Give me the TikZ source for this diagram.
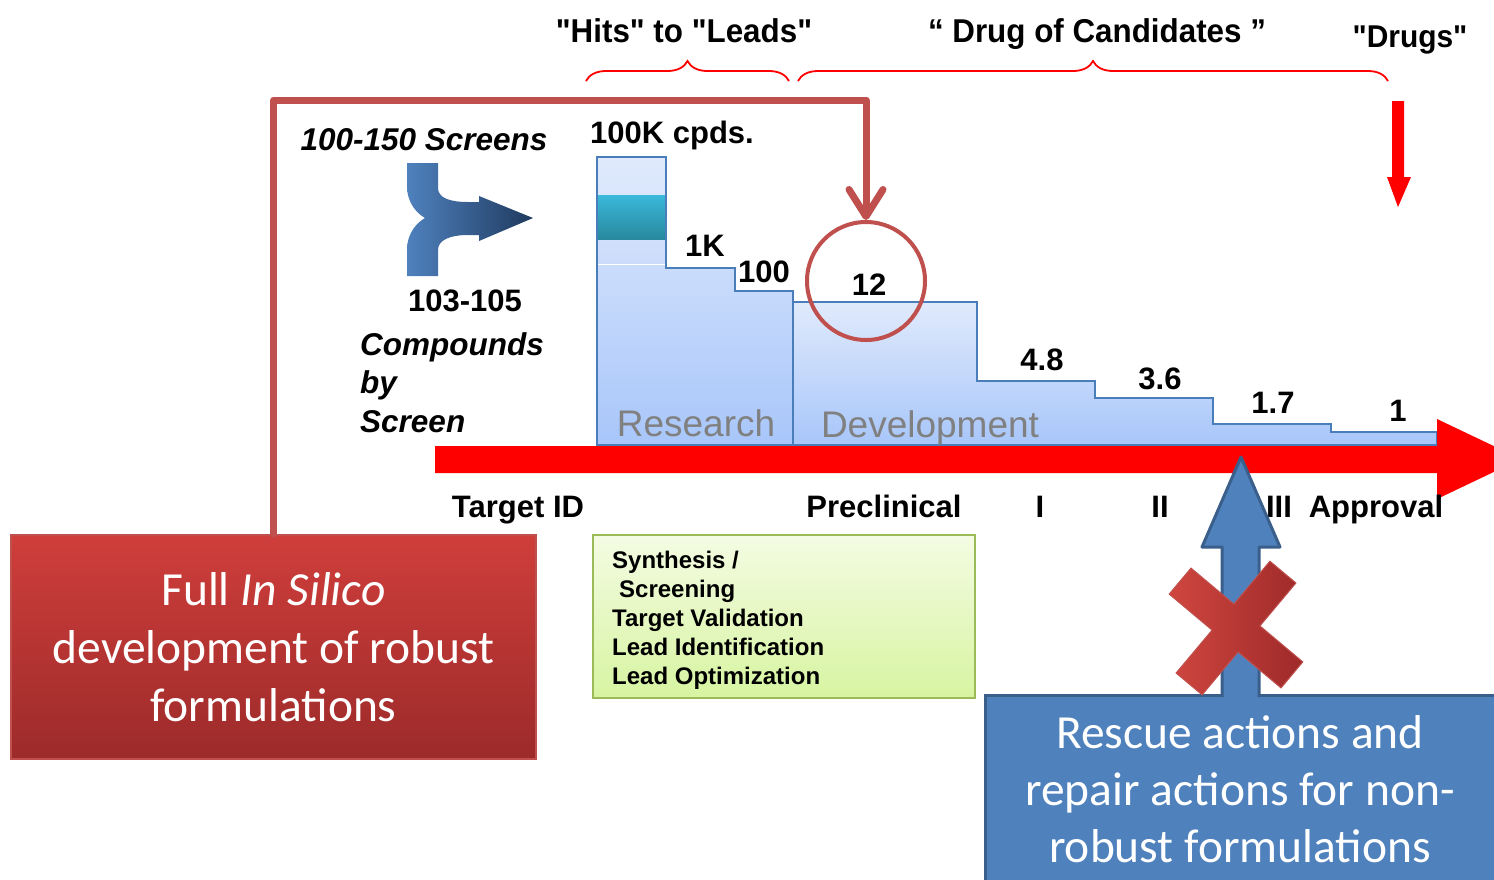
\documentclass[tikz,border=0pt]{standalone}
\usepackage{fontspec}
\setmainfont{Liberation Sans}
\newfontfamily\calfont{Carlito}
\newfontfamily\qfont{Liberation Sans}[Ligatures=TeXOff, FakeStretch=0.95]
\usetikzlibrary{arrows.meta,decorations.pathreplacing}
\definecolor{connred}{HTML}{C0504D}
\definecolor{chartline}{HTML}{4A7EBB}
\definecolor{charttop}{HTML}{E0EAFC}
\definecolor{chartbot}{HTML}{A8C6FA}
\definecolor{teal1}{HTML}{3BB8DA}
\definecolor{teal2}{HTML}{27899E}
\definecolor{blueA}{HTML}{4F81BD}
\definecolor{blueB}{HTML}{1F3A5F}
\definecolor{blueEdge}{HTML}{3A5F8B}
\definecolor{redTop}{HTML}{CF3E3B}
\definecolor{redBot}{HTML}{9C2B2A}
\definecolor{greenTop}{HTML}{F4FCE3}
\definecolor{greenBot}{HTML}{D7F4A1}
\definecolor{greenEdge}{HTML}{9BBB59}
\definecolor{xLight}{HTML}{D0463F}
\definecolor{xDark}{HTML}{9E2A2A}
\definecolor{pure}{HTML}{FF0000}
\tikzset{
  lbl/.style={inner sep=0pt, anchor=base, font=\fontsize{31}{36}\selectfont\bfseries},
  toplbl/.style={inner sep=0pt, anchor=base, font=\qfont\fontsize{33}{38}\selectfont\bfseries},
  ilbl/.style={inner sep=0pt, anchor=base west, font=\fontsize{31}{36}\selectfont\bfseries\itshape},
  phase/.style={inner sep=0pt, anchor=base, font=\fontsize{37}{44}\selectfont, text=gray},
  conn/.style={draw=connred, line width=7pt, line join=round, line cap=round},
  bracestyle/.style={draw=pure, line width=1.8pt, decorate, decoration={brace, amplitude=20pt}},
  chart/.style={draw=chartline, line width=1.8pt, top color=charttop, bottom color=chartbot},
}
\begin{document}
\begin{tikzpicture}[x=1pt,y=-1pt]
\clip (0,0) rectangle (1494,879);
\fill[white] (0,0) rectangle (1494,879);

% top labels and braces
\node[toplbl] (hl) at (684,42) {"Hits" to "Leads"};
\node[toplbl] (dc) at (1097,42) {“ Drug of Candidates ”};
\node[toplbl, font=\qfont\fontsize{31.5}{38}\selectfont\bfseries] (dr) at (1410,47) {"Drugs"};
\draw[bracestyle] (586,81) -- (789,81);
\draw[bracestyle] (798,81) -- (1388,81);

% red down arrow
\fill[pure] (1392,101) -- (1404,101) -- (1404,177) -- (1411,177) -- (1398,207) -- (1387,177) -- (1392,177) -- cycle;

% step chart
\path[chart] (597,445) -- (597,157) -- (666,157) -- (666,268) -- (735,268) -- (735,291) -- (793,291) -- (793,445) -- cycle;
\fill[top color=teal1, bottom color=teal2] (598,195) rectangle (665,239);
\draw[white, line width=0.8pt] (598,264) -- (665,264);
\draw[chartline, line width=1.8pt, line join=round] (597,445) -- (597,157) -- (666,157) -- (666,268);
\path[chart] (793,445) -- (793,302) -- (977,302) -- (977,381) -- (1095,381) -- (1095,398) -- (1213,398) -- (1213,424) -- (1331,424) -- (1331,432) -- (1437,432) -- (1437,445) -- cycle;

\node[phase] (res) at (696,436) {Research};
\node[phase] (dev) at (930,437) {Development};

% numbers
\node[lbl] (n100k) at (672,143) {100K cpds.};
\node[lbl] (n1k) at (705,256) {1K};
\node[lbl] (n100) at (764,282) {100};
\node[lbl] (n12) at (869,295) {12};
\node[lbl] (n48) at (1042,370) {4.8};
\node[lbl] (n36) at (1160,389) {3.6};
\node[lbl] (n17) at (1273,413) {1.7};
\node[lbl] (n1) at (1398,421) {1};

% circle
\node[circle, draw=connred, line width=4pt, minimum size=118pt, inner sep=0pt] (circ) at (866,281) {};

% left texts
\node[inner sep=0pt, anchor=base, font=\fontsize{31.5}{36}\selectfont\bfseries\itshape] (scr) at (424,150) {100-150 Screens};
\node[lbl] (cnt) at (465,311) {103-105};
\node[ilbl, font=\fontsize{31.5}{36}\selectfont\bfseries\itshape] (cmp) at (360,355) {Compounds};
\node[ilbl, font=\fontsize{31.5}{36}\selectfont\bfseries\itshape] (by) at (360,393) {by};
\node[ilbl, font=\fontsize{31.5}{36}\selectfont\bfseries\itshape] (scn) at (360,432) {Screen};

% merge arrow
\shade[left color=blueA, right color=blueB, shading angle=90]
  (407,163) -- (438,163) -- (438,188) .. controls (438,198) and (450,202) .. (468,202)
  -- (479,202) -- (479,196) -- (533,218) -- (479,241) -- (479,235) -- (468,235)
  .. controls (450,235) and (438,240) .. (438,250) -- (438,276) -- (407,276) -- (407,250)
  .. controls (407,232) and (418,222) .. (425,218) .. controls (418,214) and (407,204) .. (407,186) -- cycle;

% timeline arrow
\fill[pure] (435,446) -- (1437,446) -- (1437,419) -- (1521,459) -- (1437,499) -- (1437,473) -- (435,473) -- cycle;

% timeline labels
\node[lbl] (tid) at (518,517) {Target ID};
\node[lbl] (pre) at (884,517) {Preclinical};
\node[lbl] (p1) at (1040,517) {I};
\node[lbl] (p2) at (1160,517) {II};
\node[lbl] (p3) at (1279,517) {III};
\node[lbl] (app) at (1376,517) {Approval};

% red box
\node[draw=connred, line width=1.5pt, top color=redTop, bottom color=redBot,
      minimum width=525pt, minimum height=224pt, inner sep=0pt, align=center, text=white,
      font=\calfont\fontsize{47.5}{58}\selectfont] (rb) at (273.5,647)
  {Full \textit{In Silico}\\development of robust\\formulations};

% connector from red box to circle
\coordinate (c1) at (272,100);
\coordinate (c2) at (866,100);
\draw[conn, -{Straight Barb[length=27pt, width=34pt, round]}] (rb.north) -- (rb.north |- c1) -- (c2) -- (circ.north);

% green box
\node[draw=greenEdge, line width=1.8pt, top color=greenTop, bottom color=greenBot,
      minimum width=382pt, minimum height=163pt, inner sep=0pt] (gb) at (784,616.5) {};
\node[anchor=north west, inner sep=0pt, align=left, font=\fontsize{24}{29}\selectfont\bfseries] (gt) at (612,551)
  {Synthesis /\\\hspace*{7pt}Screening\\Target Validation\\Lead Identification\\Lead Optimization};

% blue box
\node[draw=blueEdge, line width=3pt, fill=blueA, minimum width=510pt, minimum height=188pt,
      inner sep=0pt, align=center, text=white, font=\calfont\fontsize{47.5}{57}\selectfont] (bb) at (1240,789)
  {Rescue actions and\\repair actions for non-\\robust formulations};

% blue up arrow
\fill[blueA] (1222,699) -- (1222,547) -- (1202,547) -- (1241,457) -- (1280,547) -- (1259,547) -- (1259,699) -- cycle;
\draw[blueEdge, line width=3pt, line join=round] (1222,697) -- (1222,547) -- (1202,547) -- (1241,457) -- (1280,547) -- (1259,547) -- (1259,697);

% red X
\shade[left color=xLight, right color=xDark]
  (1281.0,687.9) -- (1238.1,651.9) -- (1202.1,694.8) -- (1176.1,673.0) -- (1212.1,630.1)
  -- (1169.2,594.1) -- (1191.0,568.1) -- (1233.9,604.1) -- (1269.9,561.2) -- (1295.9,583.0)
  -- (1259.9,625.9) -- (1302.8,661.9) -- cycle;
\draw[connred, line width=1pt]
  (1281.0,687.9) -- (1238.1,651.9) -- (1202.1,694.8) -- (1176.1,673.0) -- (1212.1,630.1)
  -- (1169.2,594.1) -- (1191.0,568.1) -- (1233.9,604.1) -- (1269.9,561.2) -- (1295.9,583.0)
  -- (1259.9,625.9) -- (1302.8,661.9) -- cycle;
\end{tikzpicture}
\end{document}
